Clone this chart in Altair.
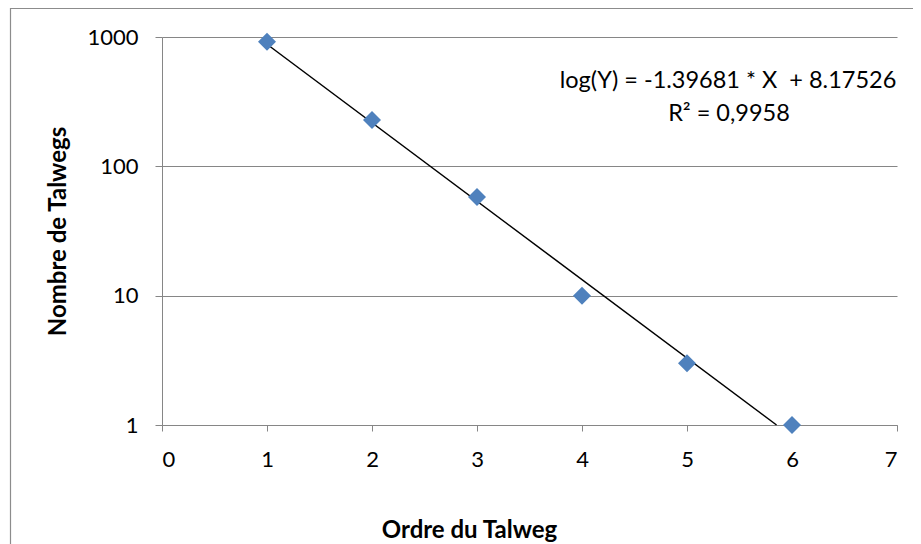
import math
import altair as alt
import pandas as pd

# ---- data ----
orders = [1, 2, 3, 4, 5, 6]
counts = [920, 228, 58, 10, 3, 1]

# regression shown on the chart: ln(Y) = slope * X + intercept
slope = -1.39681
intercept = 8.17526
r2_text = "R² = 0,9958"
eq_text = "log(Y) = -1.39681 * X\u00a0 + 8.17526"

x_ticks = [0, 1, 2, 3, 4, 5, 6, 7]
y_ticks = [1, 10, 100, 1000]

x_title = "Ordre du Talweg"
y_title = "Nombre de Talwegs"

# trend line end points (first order up to where the fit reaches Y = 1)
trend_x = [1, -intercept / slope]
trend_y = [math.exp(intercept + slope * v) for v in trend_x]

pts = pd.DataFrame({"order": orders, "count": counts})
trend = pd.DataFrame({"order": trend_x, "count": trend_y})
one = pd.DataFrame({"k": [0]})

W, H = 735, 388
FONT = "Lato"
GRID = "#868686"

x_enc = alt.X(
    "order:Q",
    scale=alt.Scale(domain=[0, 7], nice=False),
    axis=alt.Axis(
        values=x_ticks, format="d", grid=False,
        title=x_title, titleX=307, titleY=112, titleAnchor="middle",
        titleBaseline="alphabetic", titleAlign="center",
        titleFont=FONT, titleFontSize=24, titleFontWeight="bold", titleColor="black",
        labelFont=FONT, labelFontSize=22, labelColor="black", labelPadding=18,
        tickSize=6, tickColor=GRID, domainColor=GRID,
    ),
)
y_enc = alt.Y(
    "count:Q",
    scale=alt.Scale(type="log", domain=[1, 1000], nice=False),
    axis=alt.Axis(
        values=y_ticks, format="d", grid=True, gridColor=GRID, gridWidth=1.2,
        title=y_title, titleX=-104, titleY=H / 2, titleAngle=-90,
        titleBaseline="middle", titleAlign="center",
        titleFont=FONT, titleFontSize=24, titleFontWeight="bold", titleColor="black",
        labelFont=FONT, labelFontSize=22, labelColor="black", labelPadding=17,
        tickSize=7, tickColor=GRID, domainColor=GRID,
    ),
)

frame = alt.Chart(one).mark_rect(fill=None, stroke="#8c8c8c", strokeWidth=1.2).encode(
    x=alt.value(-151.5), x2=alt.value(W + 60), y=alt.value(-28.5), y2=alt.value(H + 200)
)

line = alt.Chart(trend).mark_line(color="black", strokeWidth=1.5).encode(x=x_enc, y=y_enc)

points = alt.Chart(pts).mark_point(
    shape="diamond", filled=True, size=324, color="#4F81BD", opacity=1
).encode(x="order:Q", y="count:Q")

eq1 = alt.Chart(one).mark_text(
    font=FONT, fontSize=23.5, color="black", align="center", baseline="alphabetic"
).encode(x=alt.value(566), y=alt.value(51), text=alt.value(eq_text))

eq2 = alt.Chart(one).mark_text(
    font=FONT, fontSize=23.5, color="black", align="center", baseline="alphabetic"
).encode(x=alt.value(567), y=alt.value(84), text=alt.value(r2_text))

chart = (
    alt.layer(frame, line, points, eq1, eq2)
    .properties(
        width=W, height=H,
        autosize=alt.AutoSizeParams(type="none"),
        padding={"left": 154, "top": 29, "right": 16, "bottom": 119},
        background="white",
    )
    .configure_view(stroke=None)
)

chart.save("out.html", embed_options={"renderer": "svg", "actions": False})
